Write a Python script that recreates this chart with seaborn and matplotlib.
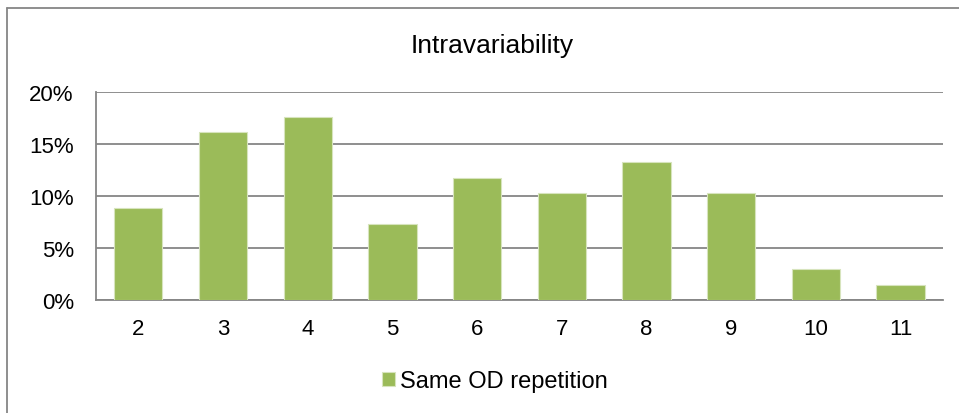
import numpy as np
import pandas as pd
import matplotlib
matplotlib.use("Agg")
import matplotlib.pyplot as plt
import seaborn as sns
from matplotlib.lines import Line2D
from matplotlib.ticker import PercentFormatter

# data
repetitions = ['2', '3', '4', '5', '6', '7', '8', '9', '10', '11']
share = [8.8, 16.2, 17.65, 7.3, 11.75, 10.3, 13.3, 10.3, 2.95, 1.45]
series_name = 'Same OD repetition'

sns.set_theme(style='white')
plt.rcParams['font.family'] = ['Liberation Sans', 'DejaVu Sans']
plt.rcParams['text.color'] = 'black'

df = pd.DataFrame({'rep': repetitions, 'share': share, 'series': series_name})

fig = plt.figure(figsize=(9.59, 4.14), dpi=100)
ax = fig.add_axes([0.1001, 0.2737, 0.8832, 0.5009])

sns.barplot(data=df, x='rep', y='share', hue='series', palette=['#9BBB59'],
            saturation=1, width=0.57, ax=ax, edgecolor='#D7E4BD', linewidth=0.8, zorder=3)

ax.set_ylim(0, 20)
ax.set_xlim(-0.5, len(repetitions) - 0.5)
ax.set_yticks([0, 5, 10, 15, 20])
ax.yaxis.set_major_formatter(PercentFormatter(decimals=0))
ax.grid(axis='y', color='#868686', linewidth=1.3, zorder=0)
ax.set_axisbelow(True)
for s in ['top', 'right']:
    ax.spines[s].set_visible(False)
for s in ['left', 'bottom']:
    ax.spines[s].set_color('#868686')
    ax.spines[s].set_linewidth(1.3)
ax.tick_params(axis='both', length=0, labelsize=16, labelcolor='black')
ax.tick_params(axis='y', pad=16)
ax.tick_params(axis='x', pad=13)
ax.set_xlabel('')
ax.set_ylabel('')

fig.text(492 / 959, 1 - 53 / 414, 'Intravariability', ha='center', va='baseline',
         fontsize=19, color='black')

leg = ax.legend(loc='center', bbox_to_anchor=(495 / 959, 1 - 382 / 414), bbox_transform=fig.transFigure,
                frameon=False, fontsize=17, handlelength=0.55, handleheight=0.55, handletextpad=0.2)
for t in leg.get_texts():
    t.set_color('black')

# outer chart border
fig.add_artist(Line2D([7 / 959, 7 / 959], [0, 1 - 9 / 414], transform=fig.transFigure,
                      color='#868686', linewidth=1.3))
fig.add_artist(Line2D([7 / 959, 1], [1 - 9 / 414, 1 - 9 / 414], transform=fig.transFigure,
                      color='#868686', linewidth=1.3))

fig.savefig('out.png', dpi=100)
